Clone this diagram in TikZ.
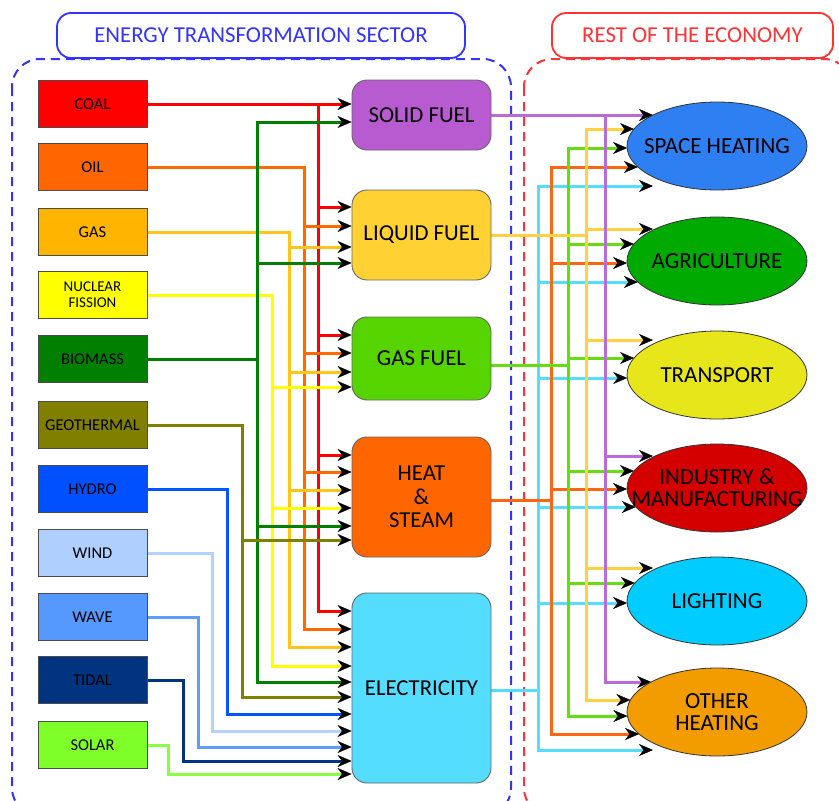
\documentclass[tikz,border=0pt]{standalone}
\usepackage{fontspec}
\setmainfont{Carlito}
\usetikzlibrary{shapes.geometric,arrows.meta,calc}
\pgfdeclarelayer{frame}
\pgfdeclarelayer{links}
\pgfsetlayers{frame,links,main}

% primary sources: box fill / line colour
\definecolor{fCoal}{HTML}{FF0000}   \definecolor{lCoal}{HTML}{FF0000}
\definecolor{fOil}{HTML}{FF6600}    \definecolor{lOil}{HTML}{FF6A00}
\definecolor{fGas}{HTML}{FFB400}    \definecolor{lGas}{HTML}{FFC41A}
\definecolor{fNuc}{HTML}{FFFF00}    \definecolor{lNuc}{HTML}{FFFF00}
\definecolor{fBio}{HTML}{007F00}    \definecolor{lBio}{HTML}{008000}
\definecolor{fGeo}{HTML}{807F00}    \definecolor{lGeo}{HTML}{808000}
\definecolor{fHyd}{HTML}{0050FF}    \definecolor{lHyd}{HTML}{0055FF}
\definecolor{fWind}{HTML}{AFCFFF}   \definecolor{lWind}{HTML}{B4D2FF}
\definecolor{fWave}{HTML}{5599FF}   \definecolor{lWave}{HTML}{5C9DFF}
\definecolor{fTidal}{HTML}{003380}  \definecolor{lTidal}{HTML}{003380}
\definecolor{fSolar}{HTML}{7FFF2A}  \definecolor{lSolar}{HTML}{88FF44}
% energy carriers
\definecolor{fSolid}{HTML}{B95BD0}  \definecolor{lSolid}{HTML}{BB6ADA}
\definecolor{fLiq}{HTML}{FFD133}    \definecolor{lLiq}{HTML}{FFD040}
\definecolor{fGasF}{HTML}{55D400}   \definecolor{lGasF}{HTML}{66DD11}
\definecolor{fHeat}{HTML}{FF6600}   \definecolor{lHeat}{HTML}{FF6611}
\definecolor{fElec}{HTML}{55DDFF}   \definecolor{lElec}{HTML}{55DDFF}
% end uses
\definecolor{uSpace}{HTML}{2E80F2}
\definecolor{uAgri}{HTML}{00AA00}
\definecolor{uTrans}{HTML}{E6E61A}
\definecolor{uInd}{HTML}{D40000}
\definecolor{uLight}{HTML}{00CCFF}
\definecolor{uOther}{HTML}{F39C00}
% frames
\definecolor{hdrBlue}{HTML}{3333FF}
\definecolor{hdrRed}{HTML}{FF3333}

\tikzset{
  src/.style={draw=black!70, line width=1pt, minimum width=109pt,
    minimum height=47pt, inner sep=1pt, align=center,
    font=\fontsize{16.5}{16}\selectfont},
  conv/.style={draw=black!60, line width=0.9pt, rounded corners=15pt,
    minimum width=139pt, inner sep=2pt, align=center,
    font=\fontsize{22.8}{23.5}\selectfont},
  sector/.style={ellipse, draw=black!80, line width=0.8pt,
    minimum width=180pt, minimum height=88pt, inner sep=0pt},
  sectortext/.style={align=center, font=\fontsize{23}{22}\selectfont},
  header/.style={line width=1.8pt, rounded corners=14pt, fill=white,
    minimum height=45pt, font=\fontsize{22.8}{23}\selectfont},
  region/.style={line width=2pt, dash pattern=on 9pt off 6pt,
    rounded corners=28pt},
  flow/.style={line width=3pt},
  bus/.style={line cap=rect},
  flowtip/.style={-{Stealth[length=14pt,width=12pt,inset=4.5pt,
    line width=0.4pt,color=black]}},
}

% branches from a vertical bus to the west side of a carrier box
\newcommand\feeds[3]{%
  \foreach \yy/\tg in {#3}{%
    \draw[flow,#1,flowtip] (#2 |- 0,\yy) -- (\tg.west |- 0,\yy);}}
% branches from a vertical bus to the left rim of an end-use ellipse
\newcommand\uses[3]{%
  \foreach \yy/\tg in {#3}{%
    \draw[flow,#1,flowtip] let \p1=(\tg.center), \p2=(#2 |- 0,\yy) in
      (\p2) -- ({min(\x1-90*sqrt(max(0,1-(((\y2)-(\y1))/44)^2)),653)},\y2);}}

\begin{document}
\begin{tikzpicture}[x=1pt,y=-1pt]
\clip (0,0) rectangle (839,801);

% ---------- sector frames ----------
\begin{pgfonlayer}{frame}
  \draw[region,hdrBlue] (12,59) rectangle (511,816);
  \draw[region,hdrRed] (524,59) rectangle (852,816);
\end{pgfonlayer}
\node[header,draw=hdrBlue,text=hdrBlue,minimum width=408pt] (ets) at (261,35.5)
  {ENERGY TRANSFORMATION SECTOR};
\node[header,draw=hdrRed,text=hdrRed,minimum width=281pt] (rote) at (692.5,35.5)
  {REST OF THE ECONOMY};

% ---------- primary sources ----------
\node[src,fill=fCoal]  (coal)    at (92.5,104) {COAL};
\node[src,fill=fOil]   (oil)     at (92.5,167) {OIL};
\node[src,fill=fGas]   (gas)     at (92.5,232) {GAS};
\node[src,fill=fNuc,font=\fontsize{15}{16}\selectfont]
                       (nuclear) at (92.5,295) {NUCLEAR\\FISSION};
\node[src,fill=fBio]   (biomass) at (92.5,359) {BIOMASS};
\node[src,fill=fGeo]   (geo)     at (92.5,425) {GEOTHERMAL};
\node[src,fill=fHyd]   (hydro)   at (92.5,489) {HYDRO};
\node[src,fill=fWind]  (wind)    at (92.5,553) {WIND};
\node[src,fill=fWave]  (wave)    at (92.5,617) {WAVE};
\node[src,fill=fTidal] (tidal)   at (92.5,680) {TIDAL};
\node[src,fill=fSolar] (solar)   at (92.5,745) {SOLAR};

% ---------- energy carriers ----------
\node[conv,fill=fSolid,minimum height=70pt]  (solid)   at (421.5,115)   {SOLID FUEL};
\node[conv,fill=fLiq,minimum height=90pt]    (liquid)  at (421.5,235)   {LIQUID FUEL};
\node[conv,fill=fGasF,minimum height=83pt]   (gasfuel) at (421.5,358.5) {GAS FUEL};
\node[conv,fill=fHeat,minimum height=120pt]  (heat)    at (421.5,497)   {HEAT\\\&\\STEAM};
\node[conv,fill=fElec,minimum height=190pt]  (elec)    at (421.5,688)   {ELECTRICITY};

% ---------- end uses (fixed-size ellipses, text laid on top) ----------
\node[sector,fill=uSpace,label={[sectortext]center:SPACE HEATING}] (space) at (717,146) {};
\node[sector,fill=uAgri,label={[sectortext]center:AGRICULTURE}] (agri) at (717,261) {};
\node[sector,fill=uTrans,label={[sectortext]center:TRANSPORT}] (transport) at (717,375) {};
\node[sector,fill=uInd,label={[sectortext]center:INDUSTRY \&\\MANUFACTURING}] (industry) at (717,488) {};
\node[sector,fill=uLight,label={[sectortext]center:LIGHTING}] (lighting) at (717,601) {};
\node[sector,fill=uOther,label={[sectortext]center:OTHER\\HEATING}] (other) at (717,712) {};

% ---------- bus positions ----------
\coordinate (bCoal)  at (318,104);
\coordinate (bOil)   at (304,167);
\coordinate (bGas)   at (289,232);
\coordinate (bNuc)   at (272,295);
\coordinate (bBio)   at (257,359);
\coordinate (bGeo)   at (242,425);
\coordinate (bHyd)   at (227,489);
\coordinate (bWind)  at (212,553);
\coordinate (bWave)  at (198,617);
\coordinate (bTidal) at (183,680);
\coordinate (bSolar) at (168,745);

\coordinate (rSolid) at (605,115);
\coordinate (rLiq)   at (586,235);
\coordinate (rGasF)  at (568,365);
\coordinate (rHeat)  at (551,500);
\coordinate (rElec)  at (538,690);

\begin{pgfonlayer}{links}
% ----- sources -> carriers -----
\draw[flow,lCoal,flowtip] (coal.east) -- (coal.east -| solid.west);
\draw[flow,lCoal,bus] (bCoal) -- (bCoal |- 0,611);
\feeds{lCoal}{bCoal}{207/liquid,335/gasfuel,455/heat,611/elec}

\draw[flow,lOil,bus] (oil.east) -- (bOil) -- (bOil |- 0,629);
\feeds{lOil}{bOil}{226/liquid,353/gasfuel,472/heat,629/elec}

\draw[flow,lGas,bus] (gas.east) -- (bGas) -- (bGas |- 0,647);
\feeds{lGas}{bGas}{247/liquid,372/gasfuel,490/heat,647/elec}

\draw[flow,lNuc,bus] (nuclear.east) -- (bNuc) -- (bNuc |- 0,666);
\feeds{lNuc}{bNuc}{387/gasfuel,508/heat,666/elec}

\draw[flow,lBio,bus] (biomass.east) -- (bBio);
\draw[flow,lBio,bus] (bBio |- 0,122) -- (bBio |- 0,682);
\feeds{lBio}{bBio}{122/solid,263/liquid,526/heat,682/elec}

\draw[flow,lGeo,bus] (geo.east) -- (bGeo) -- (bGeo |- 0,697);
\feeds{lGeo}{bGeo}{540/heat,697/elec}

\draw[flow,lHyd,bus] (hydro.east) -- (bHyd) -- (bHyd |- 0,714);
\feeds{lHyd}{bHyd}{714/elec}

\draw[flow,lWind,bus] (wind.east) -- (bWind) -- (bWind |- 0,731);
\feeds{lWind}{bWind}{731/elec}

\draw[flow,lWave,bus] (wave.east) -- (bWave) -- (bWave |- 0,747);
\feeds{lWave}{bWave}{747/elec}

\draw[flow,lTidal,bus] (tidal.east) -- (bTidal) -- (bTidal |- 0,761);
\feeds{lTidal}{bTidal}{761/elec}

\draw[flow,lSolar,bus] (solar.east) -- (bSolar) -- (bSolar |- 0,774);
\feeds{lSolar}{bSolar}{774/elec}

% ----- carriers -> end uses -----
\draw[flow,lElec,bus] (elec.east |- rElec) -- (rElec);
\draw[flow,lElec,bus] (rElec |- 0,186) -- (rElec |- 0,750);
\uses{lElec}{rElec}{186/space,282/agri,378/transport,507/industry,603/lighting,750/other}

\draw[flow,lHeat,bus] (heat.east |- rHeat) -- (rHeat);
\draw[flow,lHeat,bus] (rHeat |- 0,167) -- (rHeat |- 0,734);
\uses{lHeat}{rHeat}{167/space,263/agri,489/industry,734/other}

\draw[flow,lGasF,bus] (gasfuel.east |- rGasF) -- (rGasF);
\draw[flow,lGasF,bus] (rGasF |- 0,148) -- (rGasF |- 0,716);
\uses{lGasF}{rGasF}{148/space,244/agri,358/transport,471/industry,583/lighting,716/other}

\draw[flow,lLiq,bus] (liquid.east) -- (rLiq);
\draw[flow,lLiq,bus] (rLiq |- 0,129) -- (rLiq |- 0,700);
\uses{lLiq}{rLiq}{129/space,229/agri,340/transport,568/lighting,700/other}

\uses{lSolid}{solid.east}{115/space}
\draw[flow,lSolid,bus] (rSolid) -- (rSolid |- 0,682);
\uses{lSolid}{rSolid}{456/industry,682/other}
\end{pgfonlayer}
\end{tikzpicture}
\end{document}
